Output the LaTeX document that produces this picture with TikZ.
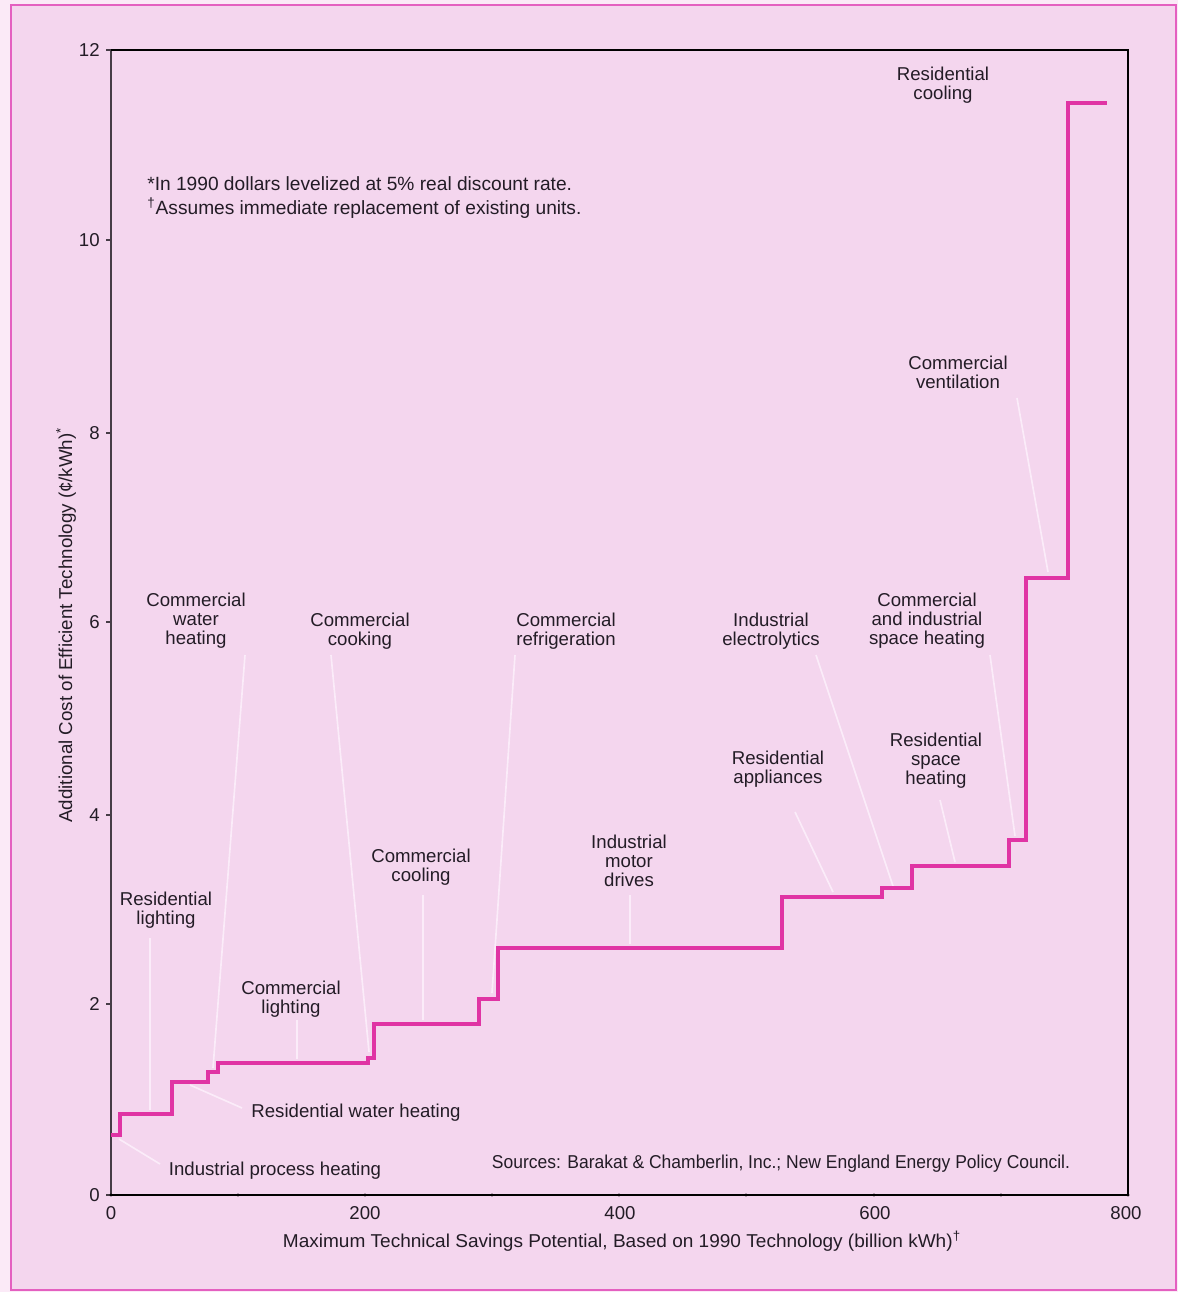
\documentclass[tikz,border=0pt]{standalone}
\usepackage{fontspec}
\setmainfont{Liberation Sans}
\usepackage{graphicx}
\definecolor{bgpink}{RGB}{244,214,238}
\definecolor{outerpink}{RGB}{251,234,247}
\definecolor{framepink}{RGB}{228,96,192}
\definecolor{curvemag}{RGB}{224,52,164}
\definecolor{leadercol}{RGB}{251,236,249}
\definecolor{inkcol}{RGB}{35,28,38}
\definecolor{axisgray}{RGB}{70,60,70}
\begin{document}
\begin{tikzpicture}[x=0.02cm,y=-0.02cm,
  lbl/.style={align=center,font=\fontsize{10.6}{10.8}\selectfont,text=inkcol,inner sep=0pt},
  ticklbl/.style={font=\fontsize{10.6}{10.8}\selectfont,text=inkcol,inner sep=0pt},
  notelbl/.style={font=\fontsize{10.9}{11}\selectfont,text=inkcol,inner sep=0pt},
  leader/.style={draw=leadercol,line width=0.95pt},
  curve/.style={draw=curvemag,line width=2pt,line join=miter},
  axisline/.style={draw=black,line width=1.1pt},
  tickdot/.style={fill=black,circle,inner sep=0pt,minimum size=1.8pt}]
% background and frame
\fill[outerpink] (0,0) rectangle (1178,1292);
\filldraw[fill=bgpink,draw=framepink,line width=0.9pt] (11,5) rectangle (1176,1290);
\useasboundingbox (0,0) rectangle (1178,1292);
% axes
\coordinate (o) at (111,1195);
\coordinate (tl) at (111,50);
\coordinate (tr) at (1128,50);
\coordinate (br) at (1128,1195);
\draw[draw=axisgray,line width=1.1pt] (o) -- (tl);
\draw[axisline] (tl) -- (tr) -- (br);
\draw[axisline] (o) -- (br);
% y ticks and labels
\foreach \v/\py in {0/1195,2/1004,4/815,6/622,8/433,10/240,12/50}{
  \draw[axisgray,line width=0.8pt] (106,\py) -- (111,\py);
  \node[ticklbl,anchor=east] (ylab\v) at (100,\py) {\v};
}
% x ticks
\foreach \v/\px in {0/111,100/238,200/365,300/492,400/619,500/746,600/874,700/1001,800/1128}{
  \node[tickdot] (xdot\v) at (\px,1195) {};
}
\foreach \v/\px in {0/111,200/365,400/620,600/875,800/1126}{
  \node[ticklbl,anchor=north] (xlab\v) at (\px,1206) {\v};
}
% axis titles
\node[ticklbl] (xtitle) at (622,1241) {\resizebox{386pt}{\height}{Maximum Technical Savings Potential, Based on 1990 Technology (billion kWh)\textsuperscript{†}}};
\node[ticklbl,rotate=90] (ytitle) at (66,625) {\resizebox{225pt}{\height}{Additional Cost of Efficient Technology (¢/kWh)\textsuperscript{*}}};
% notes
\node[notelbl,anchor=west] (note1) at (147,184) {*In 1990 dollars levelized at 5\% real discount rate.};
\node[notelbl,anchor=west] (note2) at (147,208) {\textsuperscript{†}Assumes immediate replacement of existing units.};
\node[ticklbl] (sources) at (781,1164) {\resizebox{329pt}{\height}{Sources: Barakat \& Chamberlin, Inc.; New England Energy Policy Council.}};
% leader lines (drawn under the curve)
\coordinate (cvA) at (1017,398);  \coordinate (cvB) at (1048,572);
\coordinate (ciA) at (990,655);   \coordinate (ciB) at (1015,836);
\coordinate (ieA) at (816,655);   \coordinate (ieB) at (893,886);
\coordinate (raA) at (795,812);   \coordinate (raB) at (833,892);
\coordinate (rsA) at (940,800);   \coordinate (rsB) at (955,862);
\coordinate (crA) at (515,655);   \coordinate (crB) at (492,993);
\coordinate (ccA) at (331,655);   \coordinate (ccB) at (369,1052);
\coordinate (cwA) at (245,655);   \coordinate (cwB) at (213,1068);
\coordinate (coA) at (423,895);   \coordinate (coB) at (423,1020);
\coordinate (imA) at (630,895);   \coordinate (imB) at (630,944);
\coordinate (rlA) at (150,938);   \coordinate (rlB) at (150,1110);
\coordinate (clA) at (297,1020);  \coordinate (clB) at (297,1059);
\coordinate (rwA) at (242,1108);  \coordinate (rwB) at (190,1085);
\coordinate (ipA) at (160,1164);  \coordinate (ipB) at (119,1139);
\foreach \s in {cv,ci,ie,ra,rs,cr,cc,cw,co,im,rl,cl,rw,ip}{
  \draw[leader] (\s A) -- (\s B);
}
% step curve
\draw[curve] (111,1135) -- (120,1135) -- (120,1114) -- (172,1114) -- (172,1082)
  -- (208,1082) -- (208,1072) -- (218,1072) -- (218,1063) -- (368,1063)
  -- (368,1058) -- (374,1058) -- (374,1024) -- (479,1024) -- (479,999)
  -- (498,999) -- (498,948) -- (782,948) -- (782,897) -- (882,897)
  -- (882,888) -- (912,888) -- (912,866) -- (1009,866) -- (1009,840)
  -- (1026,840) -- (1026,578) -- (1068,578) -- (1068,103) -- (1107,103);
% labels
\node[lbl] (rescool) at (943,85) {Residential\\cooling};
\node[lbl] (comvent) at (958,372) {Commercial\\ventilation};
\node[lbl] (cispace) at (927,621) {Commercial\\and industrial\\space heating};
\node[lbl] (indelec) at (771,631) {Industrial\\electrolytics};
\node[lbl] (comrefr) at (566,631) {Commercial\\refrigeration};
\node[lbl] (comcook) at (360,631) {Commercial\\cooking};
\node[lbl] (comwater) at (196,621) {Commercial\\water\\heating};
\node[lbl] (resapp) at (778,769) {Residential\\appliances};
\node[lbl] (resspace) at (936,761) {Residential\\space\\heating};
\node[lbl] (indmotor) at (629,861) {Industrial\\motor\\drives};
\node[lbl] (comcool) at (421,867) {Commercial\\cooling};
\node[lbl] (reslight) at (166,910) {Residential\\lighting};
\node[lbl] (comlight) at (291,999) {Commercial\\lighting};
\node[lbl] (reswater) at (356,1113) {Residential water heating};
\node[lbl] (indproc) at (275,1171) {Industrial process heating};
\end{tikzpicture}
\end{document}
